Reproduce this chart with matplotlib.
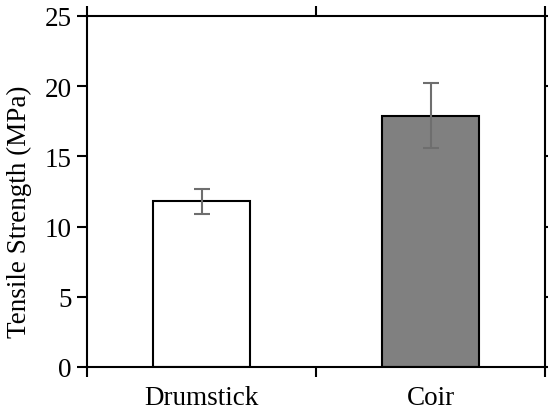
import matplotlib as mpl
import matplotlib.pyplot as plt
import numpy as np

mpl.rcParams["font.family"] = "Liberation Serif"
mpl.rcParams["font.size"] = 19.5

categories = ["Drumstick", "Coir"]
strength = [11.8, 17.9]
err_low = [0.9, 2.3]
err_high = [0.9, 2.3]
bar_colors = ["white", "#808080"]
y_ticks = [0, 5, 10, 15, 20, 25]

fig = plt.figure(figsize=(5.48, 4.14), dpi=100)
ax = fig.add_axes([87 / 548, 46 / 414, 458 / 548, 351 / 414])

x = np.arange(len(categories))
ax.bar(x, strength, 0.42, color=bar_colors, edgecolor="black", linewidth=1.5, zorder=2)
ax.errorbar(x, strength, yerr=[err_low, err_high], fmt="none", ecolor="#6e6e6e",
            elinewidth=1.5, capsize=6, capthick=1.5, zorder=3)

ax.set_xlim(-0.5, 1.5)
ax.set_ylim(0, 25)
ax.set_yticks(y_ticks)
ax.set_xticks([-0.5, 0.5, 1.5])
ax.set_xticklabels([])
ax.set_xticks(x, minor=True)
ax.set_xticklabels(categories, minor=True)
ax.tick_params(axis="x", which="minor", length=0, pad=13)
ax.tick_params(axis="both", which="major", direction="out", length=7, width=1.5,
               top=True, right=True)
ax.tick_params(axis="y", pad=4)
ax.set_ylabel("Tensile Strength (MPa)")
ax.yaxis.set_label_coords(-0.12, 0.444)
for s in ax.spines.values():
    s.set_linewidth(1.5)

plt.savefig("out.png", dpi=100)
